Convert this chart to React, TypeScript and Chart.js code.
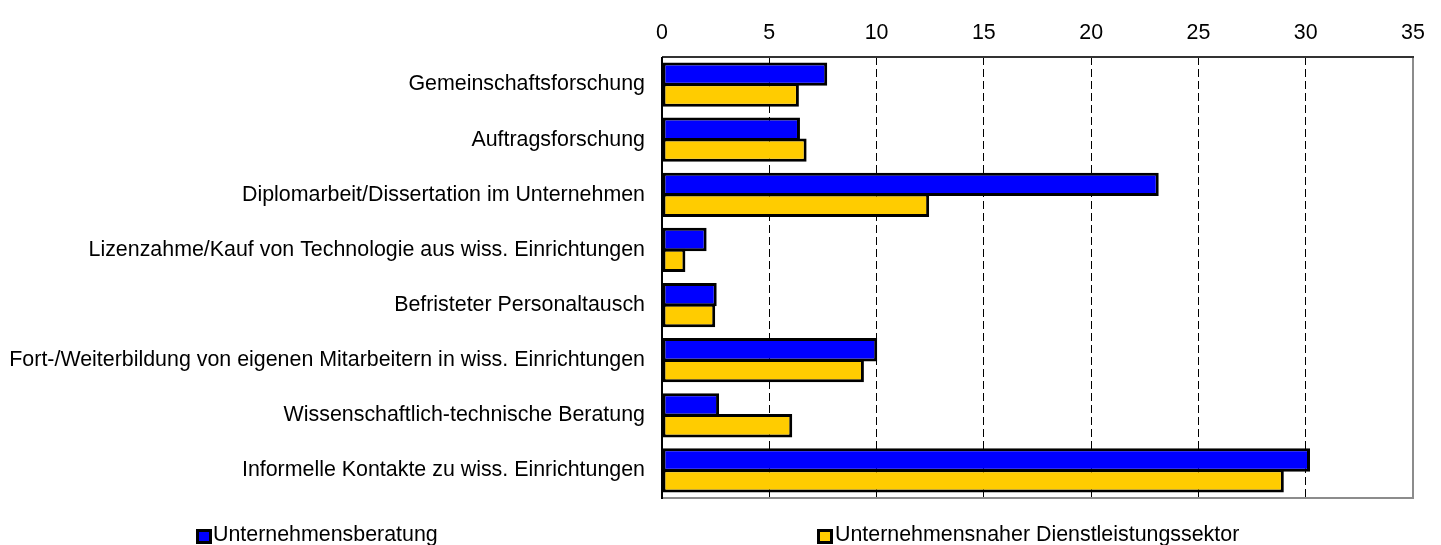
import React, { useEffect, useRef } from "react";
import { Chart, registerables } from "chart.js";

Chart.register(...registerables);

const categories: string[] = [
  "Gemeinschaftsforschung",
  "Auftragsforschung",
  "Diplomarbeit/Dissertation im Unternehmen",
  "Lizenzahme/Kauf von Technologie aus wiss. Einrichtungen",
  "Befristeter Personaltausch",
  "Fort-/Weiterbildung von eigenen Mitarbeitern in wiss. Einrichtungen",
  "Wissenschaftlich-technische Beratung",
  "Informelle Kontakte zu wiss. Einrichtungen",
];

const seriesNames: string[] = [
  "Unternehmensberatung",
  "Unternehmensnaher Dienstleistungssektor",
];

const beratung: number[] = [7.7, 6.43, 23.15, 2.08, 2.55, 10.03, 2.66, 30.2];
const dienstleistung: number[] = [6.38, 6.74, 12.45, 1.09, 2.48, 9.41, 6.07, 28.98];

const xMin = 0;
const xMax = 35;
const xStep = 5;

const colors = ["#0000FF", "#FFCC00"];
const FONT = "'Liberation Sans', Arial, sans-serif";
const FS = 21.4;

const framePlugin = {
  id: "frame",
  afterDatasetsDraw(chart: any) {
    const { ctx, chartArea } = chart;
    const { left, right, top, bottom } = chartArea;
    ctx.save();
    ctx.strokeStyle = "#8c8c8c";
    ctx.lineWidth = 2;
    ctx.beginPath();
    ctx.moveTo(right, top);
    ctx.lineTo(right, bottom);
    ctx.lineTo(left, bottom);
    ctx.stroke();
    ctx.strokeStyle = "#333333";
    ctx.lineWidth = 2;
    ctx.beginPath();
    ctx.moveTo(left, top);
    ctx.lineTo(right + 1, top);
    ctx.stroke();
    ctx.strokeStyle = "#000000";
    ctx.beginPath();
    ctx.moveTo(left, top);
    ctx.lineTo(left, bottom + 1);
    ctx.stroke();
    ctx.restore();
  },
};

export default function App() {
  const ref = useRef<HTMLCanvasElement | null>(null);
  useEffect(() => {
    if (!ref.current) return;
    const ds = (i: number, data: number[]) => ({
      label: seriesNames[i],
      data,
      backgroundColor: colors[i],
      borderColor: "#000000",
      borderWidth: 3,
      borderSkipped: false,
      categoryPercentage: 0.758,
      barPercentage: 1.12,
    });
    const chart = new Chart(ref.current, {
      type: "bar",
      data: {
        labels: categories,
        datasets: [ds(0, beratung), ds(1, dienstleistung)],
      },
      options: {
        indexAxis: "y",
        responsive: false,
        animation: false,
        layout: { padding: { left: 0, right: 28, top: 0, bottom: 47 } },
        plugins: {
          legend: { display: false },
          tooltip: { enabled: false },
        },
        scales: {
          x: {
            position: "top",
            min: xMin,
            max: xMax,
            ticks: {
              stepSize: xStep,
              color: "#000000",
              font: { family: FONT, size: FS },
              padding: 11,
            },
            grid: {
              drawTicks: false,
              color: (c: any) =>
                c.tick && c.tick.value > xMin && c.tick.value < xMax ? "#000000" : "rgba(0,0,0,0)",
              lineWidth: 1,
            },
            border: { display: false, dash: [8, 4] },
            afterFit: (s: any) => {
              s.height = 57;
            },
          },
          y: {
            ticks: {
              color: "#000000",
              font: { family: FONT, size: FS },
              padding: 17,
              autoSkip: false,
            },
            grid: { display: false, drawTicks: false },
            border: { display: false },
            afterFit: (s: any) => {
              s.width = 662;
            },
          },
        },
      },
      plugins: [framePlugin],
    } as any);
    return () => chart.destroy();
  }, []);

  const legendText: React.CSSProperties = {
    position: "absolute",
    fontFamily: FONT,
    fontSize: FS,
    lineHeight: "21px",
    color: "#000",
    whiteSpace: "nowrap",
  };
  const box = (c: string, left: number): React.CSSProperties => ({
    position: "absolute",
    left,
    top: 529,
    width: 10,
    height: 9,
    background: c,
    border: "3px solid #000",
  });

  return (
    <div style={{ position: "fixed", left: 0, top: 0, width: 1441, height: 545, background: "#fff" }}>
      <canvas ref={ref} width={1441} height={545} style={{ display: "block" }} />
      <div style={box(colors[0], 196)} />
      <div style={{ ...legendText, left: 213, top: 524 }}>{seriesNames[0]}</div>
      <div style={box(colors[1], 817)} />
      <div style={{ ...legendText, left: 835, top: 524 }}>{seriesNames[1]}</div>
    </div>
  );
}
